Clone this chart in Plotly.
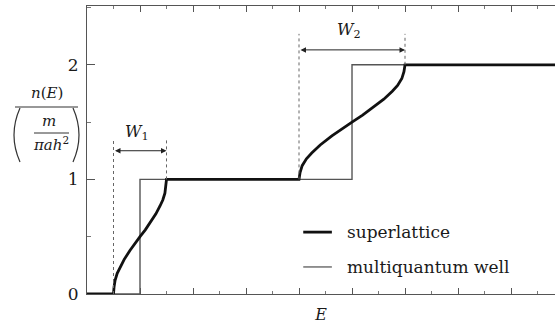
import plotly.graph_objects as go

# Density of states n(E) in units of m/(pi a hbar^2)

# superlattice: broadened steps (minibands of width W1 and W2)
sl_energy = [0.00, 0.50, 0.51, 0.53, 0.57, 0.62, 0.70, 0.81, 0.90, 1.00, 1.10, 1.19,
             1.30, 1.38, 1.43, 1.47, 1.49, 1.50,
             4.00, 4.02, 4.06, 4.14, 4.24, 4.40, 4.62, 4.80, 5.00, 5.20, 5.38,
             5.60, 5.76, 5.86, 5.94, 5.98, 6.00, 8.83]
sl_density = [0.00, 0.00, 0.06, 0.12, 0.18, 0.23, 0.30, 0.38, 0.44, 0.50, 0.56, 0.62,
              0.70, 0.77, 0.82, 0.88, 0.94, 1.00,
              1.00, 1.06, 1.12, 1.18, 1.23, 1.30, 1.38, 1.44, 1.50, 1.56, 1.62,
              1.70, 1.77, 1.82, 1.88, 1.94, 2.00, 2.00]

# multiquantum well: ideal 2D step function
mqw_energy = [0.0, 1.0, 5.0, 8.83]
mqw_density = [0.0, 1.0, 2.0, 2.0]

# miniband edges
band_edges = [(0.5, 1.5), (4.0, 6.0)]
band_labels = ["<i>W</i><sub>1</sub>", "<i>W</i><sub>2</sub>"]

y_ticks = [0, 1, 2]

W, H = 555, 329
ML, MR, MT, MB = 87, 0, 6, 35
PW, PH = W - ML - MR, H - MT - MB


def px(x):
    return (x - ML) / PW


def py(y):
    return (H - MB - y) / PH


SERIF = "DejaVu Serif"
INK = "#1a1a1a"

fig = go.Figure()

fig.add_trace(go.Scatter(
    x=mqw_energy, y=mqw_density, mode="lines", line_shape="hv",
    line=dict(color="#555555", width=1.4), name="multiquantum well",
    showlegend=False, hoverinfo="skip"))

fig.add_trace(go.Scatter(
    x=sl_energy, y=sl_density, mode="lines",
    line=dict(color="#111111", width=2.8), name="superlattice",
    showlegend=False, hoverinfo="skip"))

shapes = []
annotations = []


def label(x, y, text, size, ref="paper"):
    annotations.append(dict(xref=ref, yref=ref, x=x, y=y, text=text,
                            showarrow=False, xanchor="center", yanchor="middle",
                            font=dict(family=SERIF, size=size, color=INK)))


# dotted guides and width arrows for each miniband
guide_top = [1.36, 2.27]
arrow_y = [1.25, 2.13]
label_y = [1.41, 2.30]
for (e0, e1), top, ay, ly, lab, base in zip(band_edges, guide_top, arrow_y,
                                            label_y, band_labels, [0, 1]):
    shapes.append(dict(type="line", xref="x", yref="y", x0=e0, x1=e0, y0=base,
                       y1=top, line=dict(color="#666666", width=1, dash="dot")))
    shapes.append(dict(type="line", xref="x", yref="y", x0=e1, x1=e1, y0=base + 1,
                       y1=top, line=dict(color="#666666", width=1, dash="dot")))
    annotations.append(dict(xref="x", yref="y", axref="x", ayref="y",
                            x=e1, y=ay, ax=e0, ay=ay, text="", showarrow=True,
                            arrowhead=2, arrowside="end+start", arrowsize=1.1,
                            arrowwidth=1, arrowcolor="#222222"))
    label((e0 + e1) / 2 - 0.05, ly, lab, 16, ref="x")
    annotations[-1]["yref"] = "y"

# legend drawn inside the plot
legend_rows = [("superlattice", "#111111", 2.8, 0.54),
               ("multiquantum well", "#666666", 1.4, 0.236)]
for text, col, lw, yv in legend_rows:
    shapes.append(dict(type="line", xref="x", yref="y", x0=4.08, x1=4.62,
                       y0=yv, y1=yv, line=dict(color=col, width=lw)))
    annotations.append(dict(xref="x", yref="y", x=4.87, y=yv, xanchor="left",
                            yanchor="middle", text=text, showarrow=False,
                            font=dict(family=SERIF, size=17, color=INK)))

# y-axis label: n(E) / (m / (pi a hbar^2))
label(px(47), py(93), "<i>n</i>(<i>E</i>)", 15)
shapes.append(dict(type="line", xref="paper", yref="paper", x0=px(15), x1=px(78),
                   y0=py(107), y1=py(107), line=dict(color="#333333", width=1.2)))
label(px(49), py(121), "<i>m</i>", 15)
shapes.append(dict(type="line", xref="paper", yref="paper", x0=px(34), x1=px(69),
                   y0=py(133), y1=py(133), line=dict(color="#333333", width=1)))
label(px(51), py(144), "<i>πah</i><sup>2</sup>", 15)
for xa, xc in [(20, 8), (73, 85)]:
    path = "M {},{} Q {},{} {},{}".format(px(xa), py(108), px(xc), py(135),
                                          px(xa), py(162))
    shapes.append(dict(type="path", xref="paper", yref="paper", path=path,
                       line=dict(color="#333333", width=1.2)))

fig.update_layout(
    width=W, height=H,
    margin=dict(l=ML, r=MR, t=MT, b=MB),
    paper_bgcolor="white", plot_bgcolor="white",
    shapes=shapes, annotations=annotations,
    xaxis=dict(range=[0, 8.83], showgrid=False, zeroline=False,
               showline=True, linecolor="#555555", linewidth=1.2, mirror="ticks",
               ticks="inside", ticklen=6, tickcolor="#555555", dtick=1, tick0=0,
               showticklabels=False,
               minor=dict(ticks="inside", ticklen=3, dtick=0.5, tick0=0,
                          tickcolor="#777777", showgrid=False),
               title=dict(text="<i>E</i>", standoff=14,
                          font=dict(family=SERIF, size=16, color=INK))),
    yaxis=dict(range=[0, 2.513], showgrid=False, zeroline=False,
               showline=True, linecolor="#555555", linewidth=1.2,
               ticks="inside", ticklen=8, tickcolor="#555555",
               tickvals=y_ticks, ticktext=[str(v) for v in y_ticks],
               tickfont=dict(family=SERIF, size=17, color=INK),
               ticklabelstandoff=4,
               minor=dict(ticks="inside", ticklen=4, dtick=0.5, tick0=0,
                          tickcolor="#777777", showgrid=False)),
)

fig.write_html("out.html")
